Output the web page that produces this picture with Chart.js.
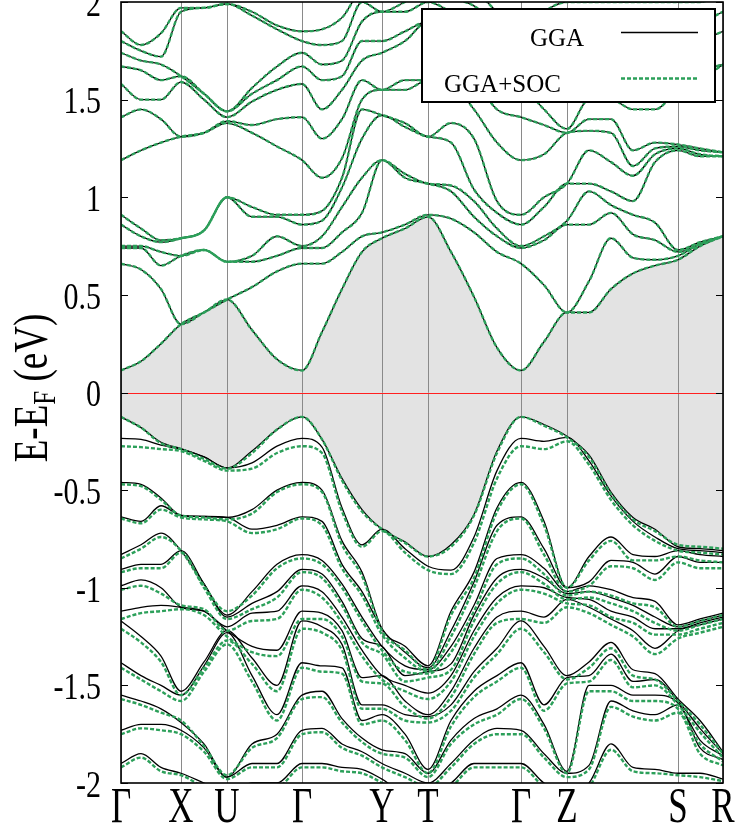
<!DOCTYPE html>
<html>
<head>
<meta charset="utf-8">
<script src="https://cdn.jsdelivr.net/npm/chart.js@4.4.0/dist/chart.umd.min.js"></script>
<style>
  html, body { margin: 0; padding: 0; background: #fff; }
  #wrap { width: 736px; height: 829px; }
</style>
</head>
<body>
<div id="wrap"><canvas id="bands" width="736" height="829"></canvas></div>
<script>
// high-symmetry path
const kTicks = [0, 0.60, 1.06, 1.81, 2.61, 3.07, 4.00, 4.46, 5.57, 6.02];
const kLabels = ['Γ', 'X', 'U', 'Γ', 'Y', 'T', 'Γ', 'Z', 'S', 'R'];
const energyTicks = [2, 1.5, 1, 0.5, 0, -0.5, -1, -1.5, -2];
const energyLabels = ['2', '1.5', '1', '0.5', '0', '-0.5', '-1', '-1.5', '-2'];

const kGrid = [0, 0.20, 0.40, 0.60, 0.83, 1.06, 1.31, 1.56, 1.81, 2.01, 2.21, 2.41, 2.61, 2.84,
               3.07, 3.30, 3.53, 3.76, 4.00, 4.23, 4.46, 4.68, 4.90, 5.12, 5.34, 5.57, 5.79, 6.02];

// conduction bands (eV), one row per k point, lowest band first (GGA; SOC lies on top of it)
const cbGGA = [
  [0.113, 0.66, 0.74, 0.75, 0.86, 0.91, 1.19, 1.41, 1.58, 1.67, 1.74, 1.80, 1.85],
  [0.16, 0.63, 0.74, 0.75, 0.80, 0.84, 1.24, 1.45, 1.50, 1.65, 1.70, 1.75, 1.78],
  [0.25, 0.53, 0.65, 0.72, 0.77, 0.78, 1.28, 1.40, 1.50, 1.60, 1.68, 1.72, 1.84],
  [0.35, 0.35, 0.70, 0.70, 0.79, 0.79, 1.31, 1.31, 1.59, 1.62, 1.62, 1.95, 1.97],
  [0.41, 0.41, 0.73, 0.73, 0.83, 0.83, 1.33, 1.33, 1.50, 1.53, 1.53, 1.97, 1.97],
  [0.476, 0.476, 0.67, 0.67, 1.00, 1.00, 1.38, 1.39, 1.41, 1.44, 1.44, 1.99, 1.99],
  [0.32, 0.54, 0.67, 0.70, 0.90, 0.95, 1.33, 1.37, 1.49, 1.53, 1.56, 1.93, 1.95],
  [0.17, 0.62, 0.70, 0.80, 0.90, 0.91, 1.26, 1.40, 1.55, 1.60, 1.67, 1.86, 1.88],
  [0.113, 0.66, 0.74, 0.75, 0.86, 0.91, 1.19, 1.41, 1.58, 1.67, 1.74, 1.80, 1.85],
  [0.31, 0.66, 0.74, 0.80, 0.88, 0.93, 1.10, 1.30, 1.45, 1.60, 1.68, 1.78, 1.86],
  [0.53, 0.72, 0.82, 0.95, 1.05, 1.10, 1.20, 1.40, 1.55, 1.62, 1.70, 1.80, 1.92],
  [0.72, 0.80, 0.92, 1.10, 1.30, 1.45, 1.50, 1.60, 1.70, 1.80, 1.90, 2.00, 2.05],
  [0.79, 0.82, 1.19, 1.19, 1.42, 1.42, 1.55, 1.55, 1.74, 1.80, 1.95, 1.95, 2.05],
  [0.84, 0.86, 1.10, 1.12, 1.36, 1.38, 1.55, 1.60, 1.80, 1.85, 1.95, 2.00, 2.05],
  [0.90, 0.91, 1.07, 1.07, 1.31, 1.31, 1.60, 1.60, 1.90, 1.90, 2.00, 2.05, 2.10],
  [0.72, 0.89, 1.03, 1.06, 1.28, 1.38, 1.58, 1.65, 1.80, 1.88, 1.95, 2.02, 2.06],
  [0.49, 0.82, 0.90, 0.98, 1.04, 1.30, 1.45, 1.60, 1.72, 1.82, 1.90, 1.98, 2.05],
  [0.23, 0.72, 0.80, 0.84, 0.92, 0.98, 1.28, 1.45, 1.62, 1.72, 1.80, 1.88, 1.95],
  [0.113, 0.66, 0.74, 0.75, 0.86, 0.91, 1.19, 1.41, 1.58, 1.67, 1.74, 1.80, 1.85],
  [0.26, 0.55, 0.78, 0.80, 0.95, 1.00, 1.22, 1.37, 1.45, 1.62, 1.72, 1.85, 1.95],
  [0.41, 0.41, 0.86, 0.88, 1.07, 1.07, 1.33, 1.33, 1.35, 1.60, 1.70, 1.90, 2.00],
  [0.41, 0.57, 0.86, 1.03, 1.07, 1.24, 1.34, 1.40, 1.50, 1.65, 1.75, 1.90, 2.00],
  [0.53, 0.79, 0.92, 0.96, 1.03, 1.18, 1.33, 1.40, 1.50, 1.65, 1.75, 1.90, 2.00],
  [0.61, 0.69, 0.81, 0.91, 0.98, 1.11, 1.16, 1.24, 1.45, 1.60, 1.75, 1.90, 2.00],
  [0.65, 0.68, 0.78, 0.87, 1.18, 1.22, 1.25, 1.28, 1.45, 1.60, 1.75, 1.90, 2.00],
  [0.68, 0.70, 0.72, 0.73, 1.24, 1.25, 1.26, 1.27, 1.55, 1.60, 1.75, 1.90, 2.00],
  [0.75, 0.76, 0.76, 0.77, 1.21, 1.22, 1.24, 1.25, 1.60, 1.65, 1.80, 1.90, 2.00],
  [0.80, 0.80, 0.80, 0.80, 1.21, 1.21, 1.23, 1.23, 1.68, 1.68, 1.85, 1.95, 2.05]
];

// valence bands (eV), one row per k point, highest band first
const vbGGA = [
  [-0.125, -0.235, -0.46, -0.637, -0.83, -0.906, -0.99, -1.12, -1.17, -1.384, -1.55, -1.73, -1.90],
  [-0.18, -0.24, -0.47, -0.66, -0.78, -0.88, -0.96, -1.10, -1.25, -1.45, -1.58, -1.70, -1.85],
  [-0.255, -0.27, -0.54, -0.58, -0.72, -0.88, -1.00, -1.09, -1.35, -1.50, -1.62, -1.70, -1.92],
  [-0.287, -0.29, -0.63, -0.63, -0.81, -0.81, -1.10, -1.10, -1.53, -1.55, -1.69, -1.73, -1.95],
  [-0.33, -0.33, -0.635, -0.635, -0.98, -0.98, -1.12, -1.12, -1.38, -1.40, -1.80, -1.82, -2.0],
  [-0.386, -0.386, -0.64, -0.64, -1.14, -1.15, -1.20, -1.22, -1.22, -1.23, -1.97, -1.97, -2.05],
  [-0.30, -0.36, -0.60, -0.70, -1.02, -1.08, -1.13, -1.30, -1.36, -1.45, -1.80, -1.90, -2.0],
  [-0.19, -0.275, -0.50, -0.68, -0.88, -1.02, -1.12, -1.32, -1.50, -1.65, -1.75, -1.90, -2.0],
  [-0.125, -0.235, -0.46, -0.637, -0.83, -0.906, -0.99, -1.12, -1.17, -1.384, -1.55, -1.73, -1.90],
  [-0.24, -0.28, -0.50, -0.66, -0.86, -0.93, -1.02, -1.13, -1.20, -1.40, -1.53, -1.72, -1.90],
  [-0.44, -0.59, -0.76, -0.88, -0.98, -1.07, -1.15, -1.22, -1.29, -1.41, -1.67, -1.80, -1.92],
  [-0.60, -0.78, -0.92, -1.02, -1.15, -1.26, -1.32, -1.46, -1.60, -1.68, -1.77, -1.84, -1.93],
  [-0.70, -0.70, -1.21, -1.21, -1.30, -1.30, -1.45, -1.45, -1.60, -1.65, -1.83, -1.90, -1.98],
  [-0.765, -0.80, -1.30, -1.33, -1.40, -1.45, -1.50, -1.58, -1.65, -1.75, -1.85, -1.95, -2.05],
  [-0.84, -0.89, -1.40, -1.41, -1.42, -1.43, -1.54, -1.65, -1.66, -1.93, -1.95, -2.0, -2.05],
  [-0.78, -0.91, -1.12, -1.22, -1.30, -1.39, -1.45, -1.53, -1.60, -1.68, -1.78, -1.90, -2.0],
  [-0.625, -0.74, -0.92, -0.97, -1.09, -1.14, -1.22, -1.31, -1.43, -1.53, -1.67, -1.78, -1.90],
  [-0.30, -0.40, -0.59, -0.68, -0.85, -0.95, -1.05, -1.15, -1.31, -1.45, -1.62, -1.72, -1.90],
  [-0.125, -0.235, -0.46, -0.637, -0.83, -0.906, -0.99, -1.12, -1.17, -1.384, -1.55, -1.73, -1.90],
  [-0.164, -0.25, -0.66, -0.80, -0.90, -0.95, -1.00, -1.15, -1.30, -1.60, -1.70, -1.85, -2.0],
  [-0.224, -0.23, -1.00, -1.00, -1.02, -1.03, -1.05, -1.06, -1.45, -1.46, -1.94, -1.95, -2.05],
  [-0.32, -0.35, -0.84, -0.97, -0.99, -1.02, -1.06, -1.10, -1.38, -1.45, -1.50, -1.91, -2.0],
  [-0.51, -0.53, -0.74, -0.86, -1.01, -1.05, -1.12, -1.16, -1.28, -1.34, -1.50, -1.58, -1.80],
  [-0.64, -0.66, -0.83, -0.87, -1.05, -1.09, -1.15, -1.22, -1.42, -1.48, -1.55, -1.63, -1.92],
  [-0.70, -0.74, -0.84, -0.93, -1.07, -1.15, -1.21, -1.31, -1.44, -1.47, -1.55, -1.65, -1.93],
  [-0.79, -0.80, -0.81, -0.84, -1.19, -1.20, -1.21, -1.22, -1.57, -1.58, -1.59, -1.60, -1.95],
  [-0.80, -0.81, -0.83, -0.87, -1.16, -1.17, -1.18, -1.19, -1.68, -1.72, -1.78, -1.82, -1.95],
  [-0.81, -0.82, -0.84, -0.87, -1.13, -1.14, -1.15, -1.16, -1.84, -1.85, -1.86, -1.88, -1.98]
];

const vbSOC = [
  [-0.125, -0.275, -0.47, -0.645, -0.85, -0.92, -1.01, -1.16, -1.21, -1.41, -1.57, -1.75, -1.92],
  [-0.18, -0.28, -0.48, -0.67, -0.80, -0.90, -0.99, -1.13, -1.28, -1.47, -1.60, -1.72, -1.87],
  [-0.26, -0.29, -0.55, -0.60, -0.74, -0.90, -1.03, -1.12, -1.38, -1.53, -1.64, -1.73, -1.94],
  [-0.29, -0.30, -0.63, -0.64, -0.81, -0.82, -1.09, -1.11, -1.55, -1.58, -1.68, -1.75, -1.96],
  [-0.34, -0.35, -0.64, -0.65, -0.99, -1.00, -1.11, -1.14, -1.41, -1.43, -1.81, -1.84, -2.02],
  [-0.39, -0.40, -0.65, -0.66, -1.12, -1.16, -1.22, -1.25, -1.27, -1.29, -1.96, -1.98, -2.06],
  [-0.31, -0.39, -0.62, -0.72, -1.04, -1.11, -1.17, -1.33, -1.39, -1.48, -1.82, -1.92, -2.02],
  [-0.19, -0.31, -0.51, -0.70, -0.90, -1.05, -1.16, -1.35, -1.53, -1.68, -1.77, -1.92, -2.02],
  [-0.125, -0.275, -0.47, -0.645, -0.85, -0.92, -1.01, -1.16, -1.21, -1.41, -1.57, -1.75, -1.92],
  [-0.24, -0.31, -0.51, -0.68, -0.88, -0.95, -1.05, -1.16, -1.23, -1.43, -1.56, -1.74, -1.92],
  [-0.45, -0.61, -0.78, -0.90, -1.00, -1.09, -1.18, -1.25, -1.32, -1.44, -1.69, -1.82, -1.94],
  [-0.61, -0.79, -0.94, -1.04, -1.17, -1.28, -1.35, -1.48, -1.62, -1.70, -1.79, -1.86, -1.95],
  [-0.70, -0.71, -1.22, -1.24, -1.32, -1.34, -1.47, -1.49, -1.62, -1.68, -1.85, -1.92, -2.0],
  [-0.77, -0.82, -1.32, -1.36, -1.43, -1.48, -1.53, -1.61, -1.68, -1.78, -1.87, -1.97, -2.07],
  [-0.84, -0.91, -1.42, -1.43, -1.44, -1.46, -1.57, -1.67, -1.69, -1.95, -1.97, -2.02, -2.07],
  [-0.79, -0.93, -1.14, -1.25, -1.33, -1.42, -1.48, -1.56, -1.63, -1.71, -1.80, -1.92, -2.02],
  [-0.63, -0.77, -0.95, -1.00, -1.12, -1.17, -1.25, -1.34, -1.46, -1.56, -1.70, -1.80, -1.92],
  [-0.31, -0.44, -0.61, -0.71, -0.88, -0.98, -1.08, -1.18, -1.34, -1.48, -1.65, -1.75, -1.92],
  [-0.125, -0.275, -0.47, -0.645, -0.85, -0.92, -1.01, -1.16, -1.21, -1.41, -1.57, -1.75, -1.92],
  [-0.17, -0.29, -0.68, -0.83, -0.93, -0.98, -1.03, -1.18, -1.33, -1.63, -1.72, -1.87, -2.02],
  [-0.23, -0.25, -1.00, -1.02, -1.04, -1.06, -1.08, -1.10, -1.47, -1.49, -1.95, -1.97, -2.07],
  [-0.33, -0.37, -0.86, -0.99, -1.02, -1.05, -1.09, -1.13, -1.41, -1.48, -1.53, -1.93, -2.02],
  [-0.52, -0.55, -0.76, -0.89, -1.04, -1.08, -1.15, -1.19, -1.31, -1.37, -1.53, -1.61, -1.83],
  [-0.65, -0.68, -0.86, -0.90, -1.08, -1.12, -1.18, -1.25, -1.45, -1.51, -1.58, -1.66, -1.94],
  [-0.71, -0.76, -0.86, -0.96, -1.10, -1.18, -1.24, -1.34, -1.47, -1.50, -1.58, -1.68, -1.95],
  [-0.78, -0.81, -0.84, -0.87, -1.20, -1.22, -1.24, -1.26, -1.58, -1.60, -1.62, -1.64, -1.96],
  [-0.79, -0.82, -0.86, -0.90, -1.17, -1.19, -1.21, -1.23, -1.70, -1.74, -1.80, -1.85, -1.97],
  [-0.80, -0.83, -0.87, -0.90, -1.14, -1.16, -1.18, -1.20, -1.85, -1.87, -1.89, -1.91, -1.99]
];

const GREEN = '#2ca05a';
const SERIF = "'Liberation Serif', 'Times New Roman', Times, serif";

function band(cols, n) {
    return kGrid.map((k, i) => ({x: k, y: cols[i][n]}));
}

function lineSet(cols, n, soc) {
    return {
        data: band(cols, n),
        borderColor: soc ? GREEN : '#000',
        borderWidth: soc ? 2.4 : 1.3,
        borderDash: soc ? [4, 2] : [],
        pointRadius: 0,
        fill: false,
        cubicInterpolationMode: 'monotone',
        clip: 0,
        order: soc ? 1 : 2
    };
}

const datasets = [];
const nBands = cbGGA[0].length;
// gap shading: top valence band filled up to bottom conduction band
const gapFill = lineSet(vbGGA, 0, false);
gapFill.fill = {target: 1};
gapFill.backgroundColor = '#e3e3e3';
datasets.push(gapFill);
datasets.push(lineSet(cbGGA, 0, false));
for (let n = 1; n < nBands; n++) datasets.push(lineSet(cbGGA, n, false));
for (let n = 1; n < vbGGA[0].length; n++) datasets.push(lineSet(vbGGA, n, false));
for (let n = 0; n < nBands; n++) datasets.push(lineSet(cbGGA, n, true));
for (let n = 0; n < vbSOC[0].length; n++) datasets.push(lineSet(vbSOC, n, true));

function setFont(ctx, size) {
    ctx.font = size + 'px ' + SERIF;
}

const bandDecor = {
    id: 'bandDecor',
    beforeDatasetsDraw(chart) {
        const {ctx, chartArea: a, scales: {x, y}} = chart;
        ctx.save();
        ctx.strokeStyle = '#8a8a8a';
        ctx.lineWidth = 1;
        kTicks.forEach(k => {
            const px = Math.round(x.getPixelForValue(k)) + 0.5;
            ctx.beginPath();
            ctx.moveTo(px, a.top);
            ctx.lineTo(px, a.bottom);
            ctx.stroke();
        });
        const y0 = Math.round(y.getPixelForValue(0)) + 0.5;
        ctx.strokeStyle = '#ff2020';
        ctx.beginPath();
        ctx.moveTo(a.left, y0);
        ctx.lineTo(a.right, y0);
        ctx.stroke();
        ctx.restore();
    },
    afterDatasetsDraw(chart) {
        const {ctx, chartArea: a, scales: {y}} = chart;
        ctx.save();
        // inward ticks on both sides
        ctx.strokeStyle = '#000';
        ctx.lineWidth = 1;
        energyTicks.forEach(v => {
            const py = Math.round(y.getPixelForValue(v)) + 0.5;
            ctx.beginPath();
            ctx.moveTo(a.left, py); ctx.lineTo(a.left + 7, py);
            ctx.moveTo(a.right, py); ctx.lineTo(a.right - 7, py);
            ctx.stroke();
        });
        ctx.lineWidth = 1.6;
        ctx.strokeRect(a.left, a.top, a.right - a.left, a.bottom - a.top);

        // legend box
        ctx.fillStyle = '#fff';
        ctx.fillRect(422, 9, 293, 93);
        ctx.lineWidth = 2;
        ctx.strokeRect(422, 9, 293, 93);
        ctx.fillStyle = '#000';
        setFont(ctx, 25);
        ctx.textBaseline = 'alphabetic';
        ctx.textAlign = 'left';
        ctx.fillText('GGA', 530, 46);
        ctx.fillText('GGA+SOC', 444, 92);
        ctx.lineWidth = 1.4;
        ctx.beginPath();
        ctx.moveTo(621, 32.5); ctx.lineTo(698, 32.5);
        ctx.stroke();
        ctx.strokeStyle = GREEN;
        ctx.lineWidth = 2.4;
        ctx.setLineDash([4, 2]);
        ctx.beginPath();
        ctx.moveTo(621, 78.5); ctx.lineTo(698, 78.5);
        ctx.stroke();
        ctx.restore();
    },
    afterDraw(chart) {
        const {ctx, chartArea: a, scales: {x, y}} = chart;
        ctx.save();
        ctx.fillStyle = '#000';
        // energy tick labels
        setFont(ctx, 30);
        ctx.textAlign = 'right';
        ctx.textBaseline = 'middle';
        energyTicks.forEach((v, i) => {
            const py = y.getPixelForValue(v) + 4;
            ctx.save();
            ctx.translate(101, py);
            ctx.scale(1, 1.25);
            ctx.fillText(energyLabels[i], 0, 0);
            ctx.restore();
        });
        // k-point labels
        setFont(ctx, 35);
        ctx.textAlign = 'center';
        ctx.textBaseline = 'alphabetic';
        kTicks.forEach((k, i) => {
            ctx.save();
            ctx.translate(x.getPixelForValue(k), 822);
            ctx.scale(1, 1.45);
            ctx.fillText(kLabels[i], 0, 0);
            ctx.restore();
        });
        // axis title E-E_F (eV)
        ctx.translate(47, 388);
        ctx.rotate(-Math.PI / 2);
        ctx.scale(1, 1.3);
        setFont(ctx, 37);
        const wE = ctx.measureText('E-E').width;
        const wRest = ctx.measureText(' (eV)').width;
        setFont(ctx, 25);
        const wF = ctx.measureText('F').width;
        let cx = -(wE + wF + wRest) / 2;
        ctx.textAlign = 'left';
        setFont(ctx, 37);
        ctx.fillText('E-E', cx, 0);
        cx += wE;
        setFont(ctx, 25);
        ctx.fillText('F', cx, 6);
        cx += wF;
        setFont(ctx, 37);
        ctx.fillText(' (eV)', cx, 0);
        ctx.restore();
    }
};

const config = {
    type: 'line',
    data: {datasets: datasets},
    options: {
        responsive: false,
        animation: false,
        devicePixelRatio: 1,
        layout: {
            padding: {left: 121, right: 13, top: 2, bottom: 46}
        },
        plugins: {
            legend: {display: false},
            tooltip: {enabled: false},
            filler: {drawTime: 'beforeDatasetsDraw'}
        },
        scales: {
            x: {type: 'linear', min: 0, max: 6.02, display: false},
            y: {type: 'linear', min: -2, max: 2, display: false}
        }
    },
    plugins: [bandDecor]
};

const bandChart = new Chart(document.getElementById('bands'), config);
</script>
</body>
</html>
